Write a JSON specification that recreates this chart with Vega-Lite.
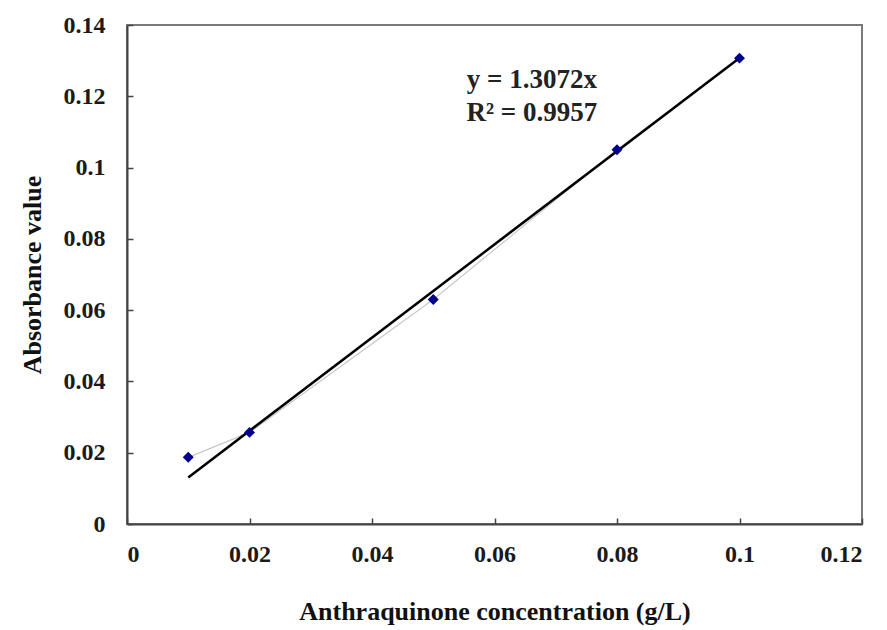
{
  "$schema": "https://vega.github.io/schema/vega-lite/v6.json",
  "width": 735,
  "height": 499,
  "autosize": {"type": "none"},
  "padding": {"left": 127, "top": 25, "right": 25, "bottom": 106},
  "background": "white",
  "config": {
    "view": {"stroke": "#7a7a7a", "strokeWidth": 2},
    "axis": {
      "labelFont": "Liberation Serif",
      "labelFontWeight": "bold",
      "labelFontSize": 24,
      "labelColor": "#1a1a1a",
      "titleFont": "Liberation Serif",
      "titleFontWeight": "bold",
      "titleFontSize": 26,
      "titleColor": "#111111",
      "domainColor": "#444444",
      "domainWidth": 2,
      "tickColor": "#444444",
      "tickWidth": 1.5,
      "tickSize": -6,
      "grid": false
    }
  },
  "datasets": {
    "pts": [
      {"conc": 0.01, "abs": 0.0187},
      {"conc": 0.02, "abs": 0.0257},
      {"conc": 0.05, "abs": 0.063},
      {"conc": 0.08, "abs": 0.105},
      {"conc": 0.1, "abs": 0.1307}
    ],
    "fit": [
      {"conc": 0.01, "abs": 0.013072},
      {"conc": 0.1, "abs": 0.13072}
    ],
    "eq": [
      {"label": "y = 1.3072x", "lx": 0.0661, "ly": 0.1245},
      {"label": "R² = 0.9957", "lx": 0.0661, "ly": 0.1153}
    ]
  },
  "layer": [
    {
      "data": {"name": "pts"},
      "mark": {"type": "line", "color": "#c8c8c8", "strokeWidth": 1.2},
      "encoding": {
        "x": {
          "field": "conc", "type": "quantitative",
          "scale": {"domain": [0, 0.12], "nice": false, "zero": true},
          "axis": {"values": [0, 0.02, 0.04, 0.06, 0.08, 0.1, 0.12], "labelExpr": "datum.value === 0 ? '0' : format(datum.value, '.2~f')", "labelPadding": 24, "titlePadding": 32, "title": "Anthraquinone concentration (g/L)"}
        },
        "y": {
          "field": "abs", "type": "quantitative",
          "scale": {"domain": [0, 0.14], "nice": false},
          "axis": {"values": [0, 0.02, 0.04, 0.06, 0.08, 0.1, 0.12, 0.14], "labelExpr": "datum.value === 0 ? '0' : format(datum.value, '.2~f')", "labelPadding": 28, "titlePadding": 18, "title": "Absorbance value"}
        }
      }
    },
    {
      "data": {"name": "fit"},
      "mark": {"type": "line", "color": "#000000", "strokeWidth": 2.5},
      "encoding": {
        "x": {"field": "conc", "type": "quantitative"},
        "y": {"field": "abs", "type": "quantitative"}
      }
    },
    {
      "data": {"name": "pts"},
      "mark": {"type": "point", "shape": "diamond", "filled": true, "color": "#00008b", "size": 120, "opacity": 1},
      "encoding": {
        "x": {"field": "conc", "type": "quantitative"},
        "y": {"field": "abs", "type": "quantitative"}
      }
    },
    {
      "data": {"name": "eq"},
      "mark": {"type": "text", "font": "Liberation Serif", "fontWeight": "bold", "fontSize": 27, "color": "#222222", "align": "center", "baseline": "middle"},
      "encoding": {
        "x": {"field": "lx", "type": "quantitative"},
        "y": {"field": "ly", "type": "quantitative"},
        "text": {"field": "label"}
      }
    }
  ]
}
